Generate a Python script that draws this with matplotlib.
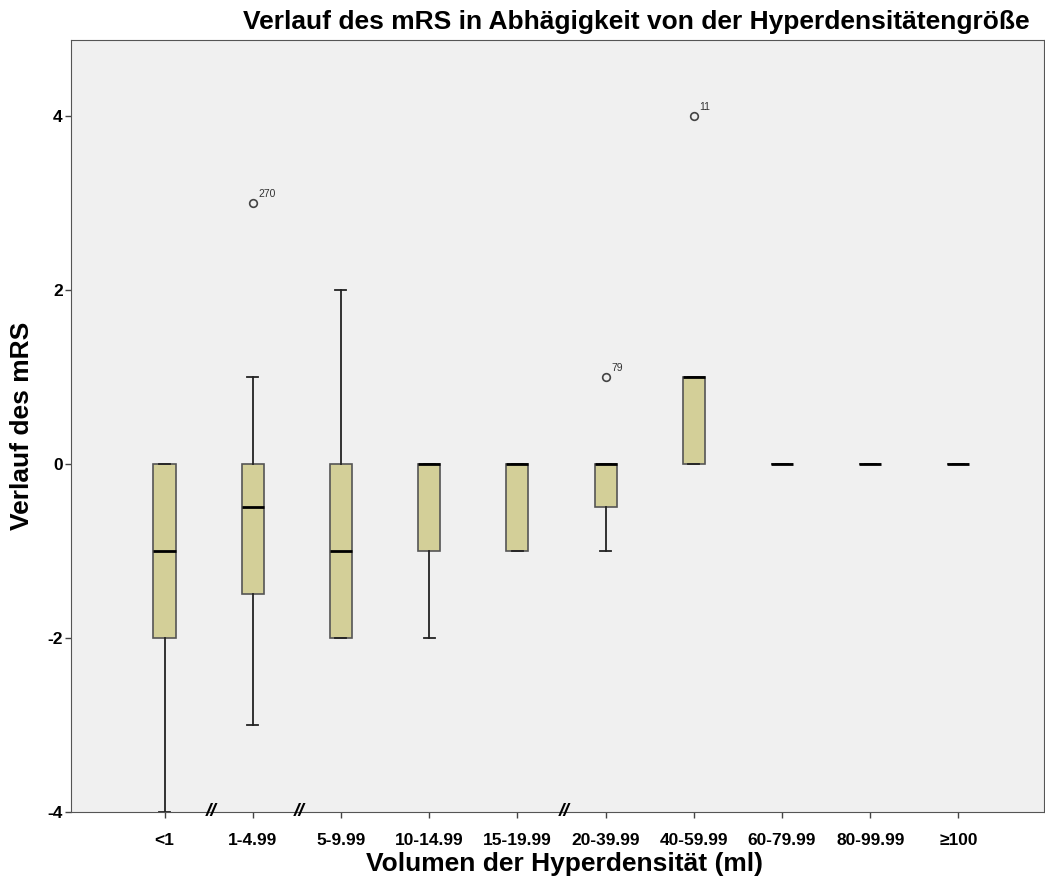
import matplotlib.pyplot as plt

plt.rcParams['font.family'] = ['Liberation Sans', 'DejaVu Sans']
plt.rcParams['axes.unicode_minus'] = False

# Kategorien und Box-Statistiken
kategorien = ["<1", "1-4.99", "5-9.99", "10-14.99", "15-19.99",
              "20-39.99", "40-59.99", "60-79.99", "80-99.99", "\u2265100"]
q1 = [-2, -1.5, -2, -1, -1, -0.5, 0, 0, 0, 0]
median = [-1, -0.5, -1, 0, 0, 0, 1, 0, 0, 0]
q3 = [0, 0, 0, 0, 0, 0, 1, 0, 0, 0]
whisker_lo = [-4, -3, -2, -2, -1, -1, 0, 0, 0, 0]
whisker_hi = [0, 1, 2, 0, 0, 0, 1, 0, 0, 0]
ausreisser = [[], [3], [], [], [], [1], [4], [], [], []]
ausreisser_id = [[], ["270"], [], [], [], ["79"], ["11"], [], [], []]
bruch_nach = [0, 1, 4]  # "//" Markierungen zwischen Kategorien

stats = []
for i in range(len(kategorien)):
    stats.append(dict(q1=q1[i], med=median[i], q3=q3[i],
                      whislo=whisker_lo[i], whishi=whisker_hi[i],
                      fliers=ausreisser[i]))

fig = plt.figure(figsize=(10.45, 8.81), dpi=100)
ax = fig.add_axes([71/1045, 1-812/881, (1044-71)/1045, (812-40)/881])
ax.set_facecolor("#F0F0F0")

pos = list(range(len(kategorien)))
ax.bxp(stats, positions=pos, widths=0.25, capwidths=0.125, patch_artist=True,
       boxprops=dict(facecolor="#D3CF98", edgecolor="#555555", linewidth=1.2),
       medianprops=dict(color="black", linewidth=2),
       whiskerprops=dict(color="#222222", linewidth=1.3),
       capprops=dict(color="#222222", linewidth=1.3),
       flierprops=dict(marker="o", markerfacecolor="none", markeredgecolor="#444444",
                       markersize=5.5, markeredgewidth=1.2))

for i in range(len(kategorien)):
    for v, lab in zip(ausreisser[i], ausreisser_id[i]):
        ax.annotate(lab, (pos[i], v), xytext=(4, 4), textcoords="offset points",
                    fontsize=7.5, color="#333333")

for b in bruch_nach:
    ax.text(b + 0.53, -4, "//", ha="center", va="center", fontsize=14,
            fontweight="bold", fontstyle="italic", clip_on=False)

ax.set_xlim(-1.06, 9.97)
ax.set_ylim(-4, 4.87)
ax.set_yticks([-4, -2, 0, 2, 4])
ax.set_xticks(pos)
ax.set_xticklabels(kategorien)
ax.tick_params(axis="both", labelsize=12.5, direction="out", length=4, width=1, colors="#444444",
               labelcolor="black")
ax.tick_params(axis="x", pad=11)
ax.tick_params(axis="y", pad=2)
for t in ax.get_xticklabels() + ax.get_yticklabels():
    t.set_fontweight("bold")
for s in ax.spines.values():
    s.set_color("#555555")

ax.set_xlabel("Volumen der Hyperdensität (ml)", fontsize=19, fontweight="bold")
ax.xaxis.set_label_coords((565-71)/(1044-71), -(852-812)/(812-40))
ax.set_ylabel("Verlauf des mRS", fontsize=19, fontweight="bold")
ax.yaxis.set_label_coords(-(71-34)/(1044-71), 0.5 - (426-426)/(812-40))
fig.text(1030/1045, 1-22/881, "Verlauf des mRS in Abhägigkeit von der Hyperdensitätengröße",
         ha="right", va="center", fontsize=19, fontweight="bold")

plt.savefig("out.png", dpi=100)
plt.close()
